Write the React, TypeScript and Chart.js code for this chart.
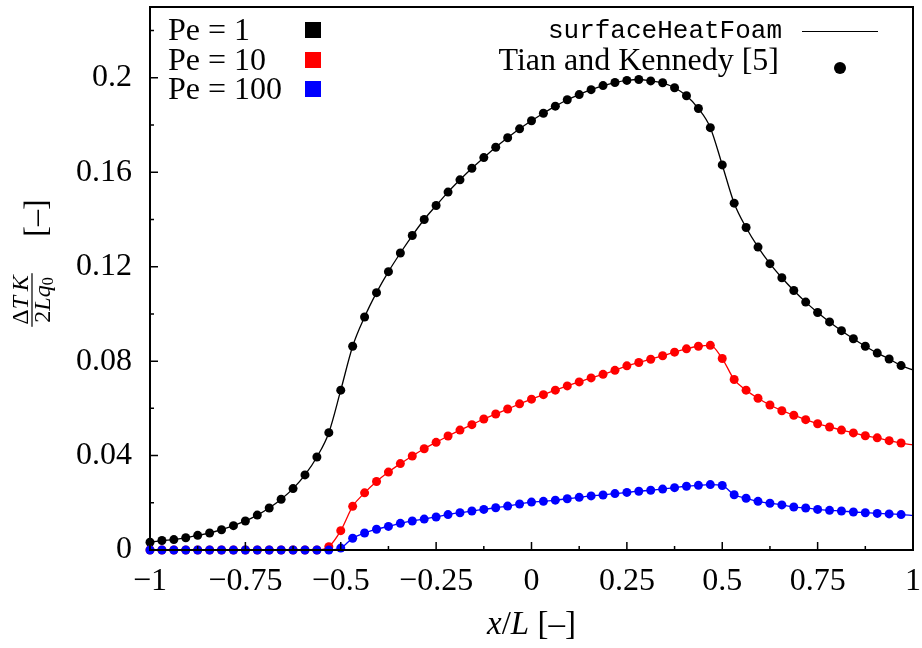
import { useEffect, useRef } from 'react';
import { Chart, registerables } from 'chart.js';

Chart.register(...registerables);

// x positions of the sampled points (Tian and Kennedy data)
const X_POINTS = [
  -1, -0.96875, -0.9375, -0.90625, -0.875, -0.84375, -0.8125, -0.78125,
  -0.75, -0.71875, -0.6875, -0.65625, -0.625, -0.59375, -0.5625, -0.53125,
  -0.5, -0.46875, -0.4375, -0.40625, -0.375, -0.34375, -0.3125, -0.28125,
  -0.25, -0.21875, -0.1875, -0.15625, -0.125, -0.09375, -0.0625, -0.03125,
  0, 0.03125, 0.0625, 0.09375, 0.125, 0.15625, 0.1875, 0.21875,
  0.25, 0.28125, 0.3125, 0.34375, 0.375, 0.40625, 0.4375, 0.46875,
  0.5, 0.53125, 0.5625, 0.59375, 0.625, 0.65625, 0.6875, 0.71875,
  0.75, 0.78125, 0.8125, 0.84375, 0.875, 0.90625, 0.9375, 0.96875,
];

const PE1 = [
  0.0033, 0.0040, 0.0044, 0.0052, 0.0062, 0.0072, 0.0086, 0.0103,
  0.0123, 0.0148, 0.0178, 0.0215, 0.0260, 0.0318, 0.0394, 0.0497,
  0.0677, 0.0863, 0.0987, 0.1090, 0.1179, 0.1258, 0.1332, 0.1400,
  0.1459, 0.1516, 0.1568, 0.1617, 0.1662, 0.1706, 0.1746, 0.1784,
  0.1818, 0.1850, 0.1880, 0.1907, 0.1929, 0.1950, 0.1967, 0.1980,
  0.1989, 0.1993, 0.1987, 0.1979, 0.1958, 0.1924, 0.1870, 0.1789,
  0.1631, 0.1469, 0.1366, 0.1283, 0.1213, 0.1153, 0.1099, 0.1050,
  0.1006, 0.0966, 0.0929, 0.0895, 0.0863, 0.0834, 0.0809, 0.0781,
];

const PE10 = [
  0, 0, 0, 0, 0, 0, 0, 0,
  0, 0, 0, 0, 0, 0, 0, 0.0014,
  0.0082, 0.0185, 0.0242, 0.0290, 0.0330, 0.0366, 0.0398, 0.0429,
  0.0456, 0.0483, 0.0508, 0.0531, 0.0555, 0.0576, 0.0597, 0.0619,
  0.0639, 0.0658, 0.0677, 0.0695, 0.0712, 0.0729, 0.0744, 0.0761,
  0.0780, 0.0794, 0.0808, 0.0823, 0.0838, 0.0852, 0.0863, 0.0867,
  0.0811, 0.0722, 0.0677, 0.0643, 0.0614, 0.0590, 0.0571, 0.0552,
  0.0535, 0.0521, 0.0508, 0.0496, 0.0484, 0.0475, 0.0463, 0.0453,
];

const PE100 = [
  0, 0, 0, 0, 0, 0, 0, 0,
  0, 0, 0, 0, 0, 0, 0, 0,
  0.0008, 0.0050, 0.0072, 0.0088, 0.0100, 0.0113, 0.0123, 0.0131,
  0.0140, 0.0150, 0.0158, 0.0165, 0.0172, 0.0179, 0.0186, 0.0195,
  0.0203, 0.0206, 0.0211, 0.0217, 0.0223, 0.0229, 0.0233, 0.0239,
  0.0244, 0.0249, 0.0253, 0.0258, 0.0264, 0.0270, 0.0274, 0.0277,
  0.0273, 0.0234, 0.0219, 0.0206, 0.0198, 0.0191, 0.0182, 0.0178,
  0.0172, 0.0168, 0.0165, 0.0161, 0.0158, 0.0155, 0.0153, 0.0150,
];

// surfaceHeatFoam curves continue to the right boundary
const X_END = 1;
const PE1_END = 0.0763;
const PE10_END = 0.0445;
const PE100_END = 0.0146;

const X_TICKS = [-1, -0.75, -0.5, -0.25, 0, 0.25, 0.5, 0.75, 1];
const X_TICK_LABELS = ['\u22121', '\u22120.75', '\u22120.5', '\u22120.25', '0', '0.25', '0.5', '0.75', '1'];
const Y_TICKS = [0, 0.04, 0.08, 0.12, 0.16, 0.2];
const Y_TICK_LABELS = ['0', '0.04', '0.08', '0.12', '0.16', '0.2'];
const Y_MAX = 0.23;

const SERIES_LABELS = ['Pe = 1', 'Pe = 10', 'Pe = 100'];
const SERIES_COLORS = ['#000000', '#ff0000', '#0000ff'];
const LINE_LABEL = 'surfaceHeatFoam';
const POINT_LABEL = 'Tian and Kennedy [5]';

const SERIF = '"Liberation Serif", "DejaVu Serif", serif';
const MONO = '"Liberation Mono", "DejaVu Sans Mono", monospace';

type Part = [string, boolean, number?, number?]; // text, italic, size, dy

function partsWidth(ctx: CanvasRenderingContext2D, parts: Part[], size: number) {
  let w = 0;
  for (const [t, it, s] of parts) {
    ctx.font = `${it ? 'italic ' : ''}${s ?? size}px ${SERIF}`;
    w += ctx.measureText(t).width;
  }
  return w;
}

function drawParts(ctx: CanvasRenderingContext2D, parts: Part[], size: number, cx: number, baseline: number) {
  const w = partsWidth(ctx, parts, size);
  let x = cx - w / 2;
  ctx.textAlign = 'left';
  ctx.textBaseline = 'alphabetic';
  for (const [t, it, s, dy] of parts) {
    ctx.font = `${it ? 'italic ' : ''}${s ?? size}px ${SERIF}`;
    ctx.fillText(t, x, baseline + (dy ?? 0));
    x += ctx.measureText(t).width;
  }
  return w;
}

function noPad(s: any) {
  s.paddingLeft = 0;
  s.paddingRight = 0;
  s.paddingTop = 0;
  s.paddingBottom = 0;
}

const decorPlugin = {
  id: 'decor',
  afterDatasetsDraw(chart: any) {
    const { ctx, chartArea: a, scales } = chart;
    ctx.save();
    ctx.strokeStyle = '#000';
    ctx.lineWidth = 2;
    ctx.strokeRect(a.left, a.top, a.right - a.left, a.bottom - a.top);

    ctx.lineWidth = 1.5;
    ctx.beginPath();
    X_TICKS.forEach((v, i) => {
      const x = scales.x.getPixelForValue(v);
      ctx.moveTo(x, a.bottom);
      ctx.lineTo(x, a.bottom - 8);
      if (i < X_TICKS.length - 1) {
        const xm = scales.x.getPixelForValue((v + X_TICKS[i + 1]) / 2);
        ctx.moveTo(xm, a.bottom);
        ctx.lineTo(xm, a.bottom - 4);
      }
    });
    Y_TICKS.forEach((v, i) => {
      const y = scales.y.getPixelForValue(v);
      ctx.moveTo(a.left, y);
      ctx.lineTo(a.left + 8, y);
      const next = i < Y_TICKS.length - 1 ? Y_TICKS[i + 1] : v + (v - Y_TICKS[i - 1]);
      const mid = (v + next) / 2;
      if (mid < Y_MAX) {
        const ym = scales.y.getPixelForValue(mid);
        ctx.moveTo(a.left, ym);
        ctx.lineTo(a.left + 4, ym);
      }
    });
    ctx.stroke();
    ctx.restore();
  },
  afterDraw(chart: any) {
    const { ctx, chartArea: a } = chart;
    ctx.save();
    ctx.fillStyle = '#000';

    // x axis title
    drawParts(ctx, [['x', true], ['/', false], ['L', true], [' [\u2013]', false]], 33, (a.left + a.right) / 2, 634);

    // y axis title (rotated)
    ctx.save();
    ctx.translate(32, 300);
    ctx.rotate(-Math.PI / 2);
    const numW = drawParts(ctx, [['\u0394', false], ['T', true], ['\u2009', false], ['K', true]], 24, 0, -4);
    const denW = drawParts(ctx, [['2', false], ['L', true], ['q', true], ['0', false, 16, 3]], 24, 0, 18);
    const bw = Math.max(numW, denW) + 4;
    ctx.fillRect(-bw / 2, -0.6, bw, 1.2);
    drawParts(ctx, [['[\u2013]', false]], 32, 82, 14);
    ctx.restore();

    // left legend
    ctx.textAlign = 'left';
    ctx.textBaseline = 'alphabetic';
    ctx.font = `32px ${SERIF}`;
    const rowsY = [40, 70, 99];
    SERIES_LABELS.forEach((lab, i) => {
      ctx.fillStyle = '#000';
      ctx.fillText(lab, 168, rowsY[i]);
      ctx.fillStyle = SERIES_COLORS[i];
      ctx.fillRect(305, rowsY[i] - 18, 16, 16);
    });

    // right legend
    ctx.fillStyle = '#000';
    ctx.textAlign = 'right';
    ctx.font = `26px ${MONO}`;
    ctx.fillText(LINE_LABEL, 782, 38);
    ctx.strokeStyle = '#000';
    ctx.lineWidth = 1.2;
    ctx.beginPath();
    ctx.moveTo(802, 31.5);
    ctx.lineTo(878, 31.5);
    ctx.stroke();
    ctx.font = `32px ${SERIF}`;
    ctx.fillText(POINT_LABEL, 779, 70);
    ctx.beginPath();
    ctx.arc(840, 68, 6, 0, Math.PI * 2);
    ctx.fill();
    ctx.restore();
  },
};

export default function App() {
  const ref = useRef<HTMLCanvasElement | null>(null);

  useEffect(() => {
    if (!ref.current) return;
    const series = [PE1, PE10, PE100];
    const ends = [PE1_END, PE10_END, PE100_END];

    const pointSets = series.map((ys, i) => ({
      label: `${SERIES_LABELS[i]} (${POINT_LABEL})`,
      data: X_POINTS.map((x, j) => ({ x, y: ys[j] })),
      showLine: false,
      pointRadius: 4.5,
      pointHoverRadius: 4.5,
      pointBackgroundColor: SERIES_COLORS[i],
      backgroundColor: SERIES_COLORS[i],
      pointBorderWidth: 0,
      borderWidth: 0,
      clip: false as any,
      order: 2 - i,
    }));

    const lineSets = series.map((ys, i) => ({
      label: `${SERIES_LABELS[i]} (${LINE_LABEL})`,
      data: [...X_POINTS.map((x, j) => ({ x, y: ys[j] })), { x: X_END, y: ends[i] }],
      showLine: true,
      pointRadius: 0,
      pointHoverRadius: 0,
      borderColor: SERIES_COLORS[i],
      borderWidth: 1.3,
      cubicInterpolationMode: 'monotone' as const,
      clip: 2 as any,
      order: 5 - i,
    }));

    const tickFont = { family: SERIF, size: 32 };

    const chart = new Chart(ref.current, {
      type: 'scatter',
      data: { datasets: [...pointSets, ...lineSets] as any },
      options: {
        animation: false,
        responsive: false,
        events: [],
        layout: { padding: { top: 7, right: 9, left: 0, bottom: 0 } },
        plugins: { legend: { display: false }, tooltip: { enabled: false } },
        scales: {
          x: {
            type: 'linear',
            min: -1,
            max: 1,
            afterBuildTicks: (s: any) => {
              s.ticks = X_TICKS.map((v) => ({ value: v }));
            },
            afterFit: (s: any) => {
              s.height = 98;
              noPad(s);
            },
            ticks: {
              font: tickFont,
              color: '#000',
              padding: 12,
              maxRotation: 0,
              autoSkip: false,
              callback: (v: any) => X_TICK_LABELS[X_TICKS.indexOf(Number(v))] ?? '',
            },
            grid: { display: false, drawTicks: false },
            border: { display: false },
          },
          y: {
            type: 'linear',
            min: 0,
            max: Y_MAX,
            afterBuildTicks: (s: any) => {
              s.ticks = Y_TICKS.map((v) => ({ value: v }));
            },
            afterFit: (s: any) => {
              s.width = 150;
              noPad(s);
            },
            ticks: {
              font: tickFont,
              color: '#000',
              padding: 18,
              autoSkip: false,
              callback: (v: any) => {
                const idx = Y_TICKS.findIndex((t) => Math.abs(t - Number(v)) < 1e-9);
                return idx >= 0 ? Y_TICK_LABELS[idx] : '';
              },
            },
            grid: { display: false, drawTicks: false },
            border: { display: false },
          },
        },
      },
      plugins: [decorPlugin],
    });
    return () => chart.destroy();
  }, []);

  return (
    <div style={{ position: 'fixed', left: 0, top: 0, width: 922, height: 648, background: '#fff' }}>
      <canvas ref={ref} width={922} height={648} />
    </div>
  );
}
